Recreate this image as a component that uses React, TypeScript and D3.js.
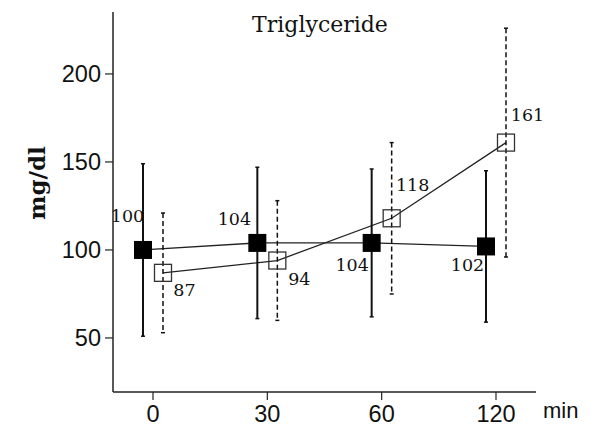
import React, { useEffect, useRef } from "react";
import * as d3 from "d3";

// ---------- Data ----------
const timepoints = ["0", "30", "60", "120"];
const yTicks = [50, 100, 150, 200];

// filled squares (solid error bars)
const filledMean = [100, 104, 104, 102];
const filledSd = [49, 43, 42, 43];

// open squares (dashed error bars)
const openMean = [87, 94, 118, 161];
const openSd = [34, 34, 43, 65];

const title = "Triglyceride";
const yLabel = "mg/dl";
const xUnit = "min";

const W = 600;
const H = 445;

const App: React.FC = () => {
  const svgRef = useRef<SVGSVGElement | null>(null);

  useEffect(() => {
    const svg = d3.select(svgRef.current);
    svg.selectAll("*").remove();

    const axisX = 113;
    const axisBottom = 392;
    const axisTop = 12;
    const axisRight = 536;

    const x = d3.scalePoint<string>().domain(timepoints).range([153, 496]);
    const y = d3.scaleLinear().domain([19.3, 235.2]).range([axisBottom, axisTop]);

    const sans = "'Liberation Sans', Arial, sans-serif";
    const serif = "'DejaVu Serif', serif";
    const dx = 10; // horizontal offset between the two groups

    // Axes
    const yAxis = svg.append("g").attr("transform", `translate(${axisX},0)`);
    yAxis
      .append("line")
      .attr("x1", 0)
      .attr("x2", 0)
      .attr("y1", axisTop)
      .attr("y2", axisBottom)
      .attr("stroke", "#222")
      .attr("stroke-width", 1.5);
    yTicks.forEach((t) => {
      yAxis
        .append("line")
        .attr("x1", -8)
        .attr("x2", 0)
        .attr("y1", y(t))
        .attr("y2", y(t))
        .attr("stroke", "#222")
        .attr("stroke-width", 1.2);
      yAxis
        .append("text")
        .attr("x", -12)
        .attr("y", y(t))
        .attr("dy", "0.36em")
        .attr("text-anchor", "end")
        .attr("font-family", sans)
        .attr("font-size", 23.5)
        .attr("fill", "#111")
        .text(t);
    });

    const xAxis = svg.append("g").attr("transform", `translate(0,${axisBottom})`);
    xAxis
      .append("line")
      .attr("x1", axisX)
      .attr("x2", axisRight)
      .attr("y1", 0)
      .attr("y2", 0)
      .attr("stroke", "#222")
      .attr("stroke-width", 1.5);
    timepoints.forEach((t) => {
      xAxis
        .append("line")
        .attr("x1", x(t)!)
        .attr("x2", x(t)!)
        .attr("y1", 0)
        .attr("y2", 8)
        .attr("stroke", "#222")
        .attr("stroke-width", 1.2);
      xAxis
        .append("text")
        .attr("x", x(t)!)
        .attr("y", 30)
        .attr("text-anchor", "middle")
        .attr("font-family", sans)
        .attr("font-size", 23.5)
        .attr("fill", "#111")
        .text(t);
    });
    svg
      .append("text")
      .attr("x", 543)
      .attr("y", 418)
      .attr("font-family", sans)
      .attr("font-size", 22)
      .attr("fill", "#111")
      .text(xUnit);

    // Title & y label
    svg
      .append("text")
      .attr("x", 320)
      .attr("y", 32)
      .attr("text-anchor", "middle")
      .attr("font-family", serif)
      .attr("font-size", 22)
      .attr("fill", "#111")
      .text(title);
    svg
      .append("text")
      .attr("transform", `translate(45,183) rotate(-90)`)
      .attr("text-anchor", "middle")
      .attr("font-family", serif)
      .attr("font-weight", "bold")
      .attr("font-size", 23)
      .attr("fill", "#111")
      .text(yLabel);

    // Lines
    const line = d3
      .line<number>()
      .x((_, i) => x(timepoints[i])!)
      .y((d) => y(d));

    svg
      .append("path")
      .datum(filledMean)
      .attr("transform", `translate(${-dx},0)`)
      .attr("fill", "none")
      .attr("stroke", "#222")
      .attr("stroke-width", 1.3)
      .attr("d", line);
    svg
      .append("path")
      .datum(openMean)
      .attr("transform", `translate(${dx},0)`)
      .attr("fill", "none")
      .attr("stroke", "#222")
      .attr("stroke-width", 1.3)
      .attr("d", line);

    // Error bars
    const errBars = (
      means: number[],
      sds: number[],
      off: number,
      dashed: boolean
    ) => {
      means.forEach((m, i) => {
        const cx = x(timepoints[i])! + off;
        const g = svg.append("g");
        g.append("line")
          .attr("x1", cx)
          .attr("x2", cx)
          .attr("y1", y(m + sds[i]))
          .attr("y2", y(m - sds[i]))
          .attr("stroke", "#111")
          .attr("stroke-width", dashed ? 1.5 : 2)
          .attr("stroke-dasharray", dashed ? "5,3" : null);
        [m + sds[i], m - sds[i]].forEach((v) => {
          g.append("line")
            .attr("x1", cx - 2)
            .attr("x2", cx + 2)
            .attr("y1", y(v))
            .attr("y2", y(v))
            .attr("stroke", "#111")
            .attr("stroke-width", 1.5);
        });
      });
    };
    errBars(filledMean, filledSd, -dx, false);
    errBars(openMean, openSd, dx, true);

    // Squares
    const fs = 18;
    filledMean.forEach((m, i) => {
      svg
        .append("rect")
        .attr("x", x(timepoints[i])! - dx - fs / 2)
        .attr("y", y(m) - fs / 2)
        .attr("width", fs)
        .attr("height", fs)
        .attr("fill", "#000");
    });
    const os = 17;
    openMean.forEach((m, i) => {
      svg
        .append("rect")
        .attr("x", x(timepoints[i])! + dx - os / 2)
        .attr("y", y(m) - os / 2)
        .attr("width", os)
        .attr("height", os)
        .attr("fill", "none")
        .attr("stroke", "#333")
        .attr("stroke-width", 1.3);
    });

    // Value labels (offsets relative to each marker)
    const filledLabelOff: [number, number][] = [
      [-15.5, -34],
      [-23, -24.5],
      [-19.5, 22],
      [-18.5, 18.5],
    ];
    const openLabelOff: [number, number][] = [
      [21.5, 17],
      [22, 18],
      [21, -34],
      [21.5, -28],
    ];
    const label = (
      means: number[],
      off: number,
      offs: [number, number][]
    ) => {
      means.forEach((m, i) => {
        svg
          .append("text")
          .attr("x", x(timepoints[i])! + off + offs[i][0])
          .attr("y", y(m) + offs[i][1])
          .attr("dy", "0.36em")
          .attr("text-anchor", "middle")
          .attr("font-family", serif)
          .attr("font-size", 17.5)
          .attr("fill", "#111")
          .text(m);
      });
    };
    label(filledMean, -dx, filledLabelOff);
    label(openMean, dx, openLabelOff);
  }, []);

  return (
    <svg
      ref={svgRef}
      width={W}
      height={H}
      style={{ position: "absolute", left: 0, top: 0, background: "#fff" }}
    />
  );
};

export default App;
